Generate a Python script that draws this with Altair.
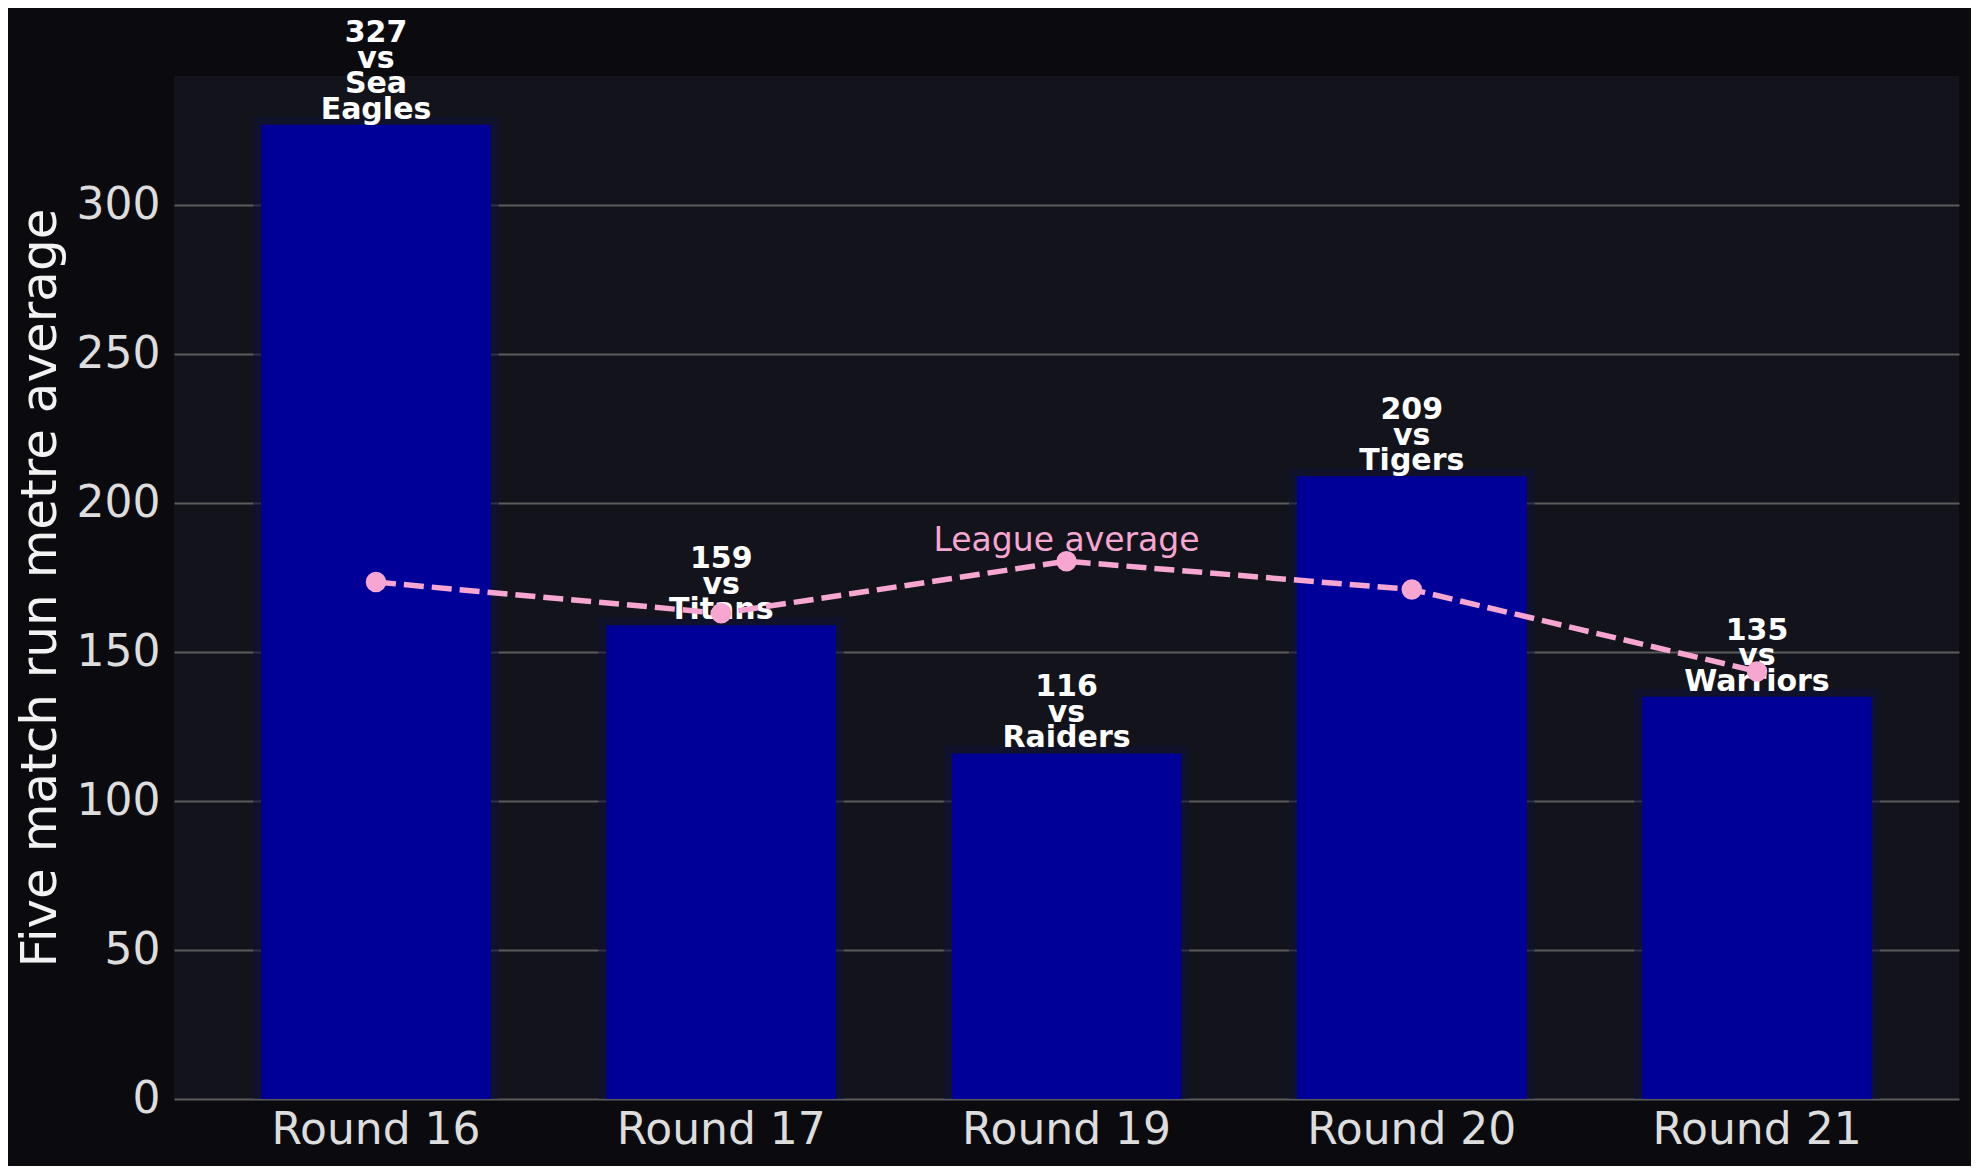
import altair as alt
import pandas as pd

rounds = ["Round 16", "Round 17", "Round 19", "Round 20", "Round 21"]
run_metres = [327, 159, 116, 209, 135]
opponents = ["Sea Eagles", "Titans", "Raiders", "Tigers", "Warriors"]
league_average = [173.5, 163, 180.5, 171, 143.5]

df = pd.DataFrame({
    "round": rounds,
    "metres": run_metres,
    "opponent": opponents,
    "league": league_average,
})

# one row per label line, k counted from the bottom line upwards
rows = []
for r, v, o in zip(rounds, run_metres, opponents):
    parts = [str(v), "vs"] + o.split(" ")
    for k, part in enumerate(reversed(parts)):
        rows.append({"round": r, "metres": v, "text": part, "k": k})
label_df = pd.DataFrame(rows)

FONT = "DejaVu Sans"
PINK = "#f7a6d2"
LINE_H = 25.6

x_enc = alt.X(
    "round:N", sort=rounds,
    scale=alt.Scale(paddingInner=0.335, paddingOuter=0.2525),
    axis=alt.Axis(title=None, labelAngle=0, labelFontSize=44, labelColor="#dddddd",
                  labelPadding=9, labelLimit=0, ticks=False, domain=False,
                  grid=False, labelFont=FONT),
)
y_scale = alt.Scale(domain=[0, 343.35], nice=False, zero=True)
y_axis = alt.Axis(
    title="Five match run metre average", titleFontSize=50, titleColor="#f2f2f2",
    titleFontWeight="normal", titleFont=FONT, titlePadding=11,
    labelFontSize=44, labelColor="#dddddd", labelFont=FONT, labelPadding=14,
    values=[0, 50, 100, 150, 200, 250, 300], grid=True, gridColor="#5c5c5c",
    gridWidth=2, domain=False, ticks=False,
)

base = alt.Chart(df)

shadow = base.mark_bar(color="#0e0f38", stroke="#0e0f38", strokeWidth=16,
                       strokeOpacity=0.55, clip=True).encode(
    x=x_enc, y=alt.Y("metres:Q", scale=y_scale, axis=y_axis))

bars = base.mark_bar(color="#000099").encode(
    x=x_enc, y=alt.Y("metres:Q", scale=y_scale, axis=y_axis))

label_layers = []
for k in range(4):
    label_layers.append(
        alt.Chart(label_df).transform_filter(alt.datum.k == k).mark_text(
            font=FONT, fontWeight="bold", fontSize=30, color="white",
            baseline="alphabetic", dy=-6 - k * LINE_H,
        ).encode(x=x_enc, y=alt.Y("metres:Q", scale=y_scale, axis=y_axis),
                 text="text:N")
    )

line = base.mark_line(color=PINK, strokeWidth=5.5, strokeDash=[20, 8]).encode(
    x=x_enc, y=alt.Y("league:Q", scale=y_scale, axis=y_axis))

points = base.mark_circle(size=420, color=PINK, opacity=1).encode(
    x=x_enc, y=alt.Y("league:Q", scale=y_scale, axis=y_axis))

league_text = base.transform_filter(alt.datum.round == "Round 19").mark_text(
    text="League average", font=FONT, fontSize=33, color=PINK,
    baseline="alphabetic", dy=-10).encode(
    x=x_enc, y=alt.Y("league:Q", scale=y_scale, axis=y_axis))

chart = alt.layer(shadow, bars, *label_layers, line, points, league_text).properties(
    width=1785, height=1023,
    padding={"left": 166, "top": 68, "right": 12, "bottom": 67},
    autosize=alt.AutoSizeParams(type="none"),
    background="#0b0b0f",
).configure_view(fill="#13141b", strokeWidth=0)

chart.save("out.html", embed_options={"renderer": "svg", "actions": False})
